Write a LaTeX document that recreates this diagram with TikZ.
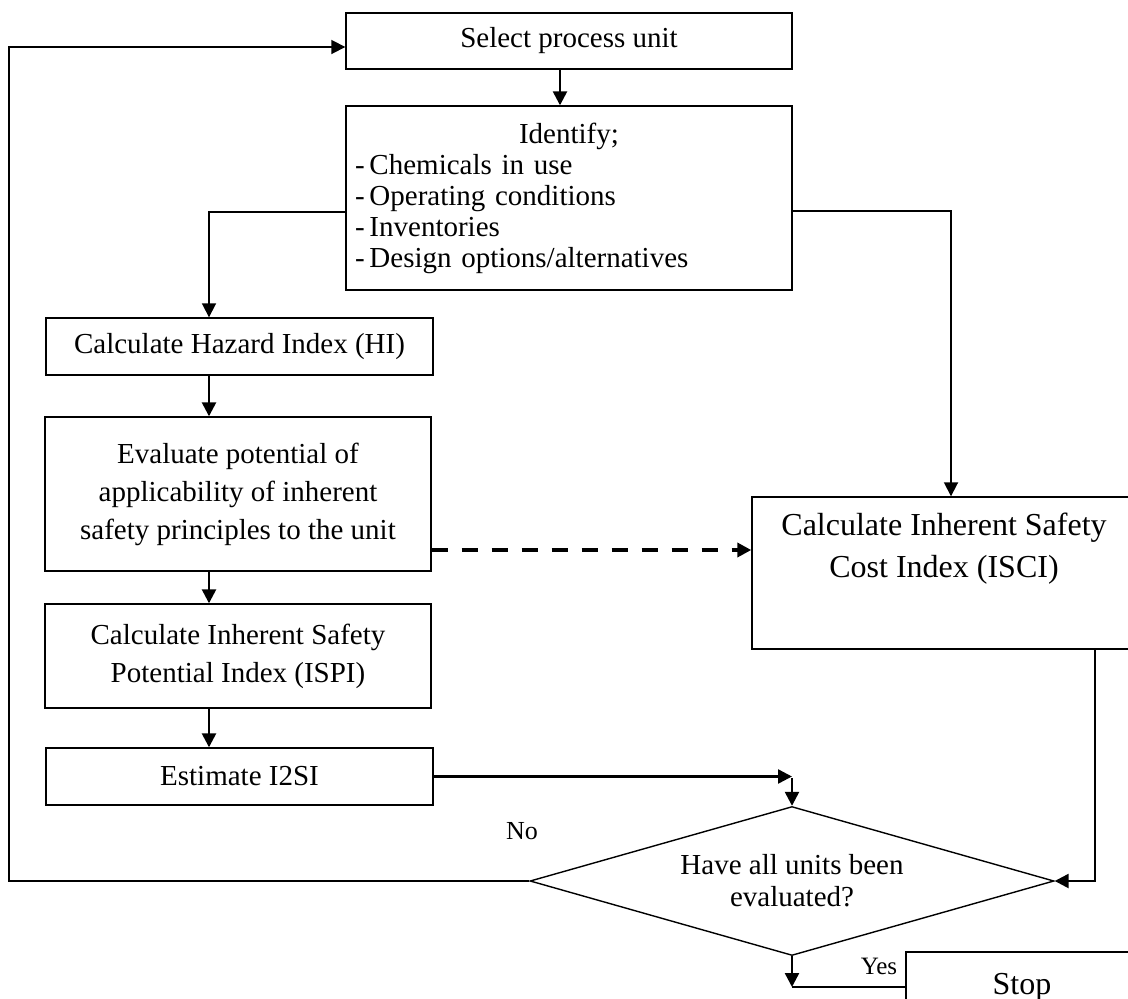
\documentclass[tikz,border=0pt]{standalone}
\usepackage{fontspec}
\setmainfont{Liberation Serif}
\usepackage{tikz}
\usetikzlibrary{positioning,shapes.geometric,arrows.meta}
\tikzset{
    >={Triangle[length=14pt,width=14pt]},
    box/.style={draw, line width=1.4pt, rectangle, inner sep=0pt, align=center, font=\fontsize{29}{38}\selectfont},
    conn/.style={line width=2.5pt},
    thinconn/.style={line width=1.8pt},
}

\begin{document}
\begin{tikzpicture}[x=1pt, y=-1pt]
                    \useasboundingbox (0,0) rectangle (1128,999);
                    \coordinate (spine) at (209,0);
                    \coordinate (rspine) at (951,0);
                    \coordinate (loopx) at (9,0);

                    \node[box, minimum width=446pt, minimum height=56pt] (sel) at (569,41) {Select process unit};
                    \node[box, minimum width=446pt, minimum height=184pt, text width=428pt, align=left, font=\fontsize{29}{31}\selectfont] (ident) at (569,198)
                        {\makebox[428pt]{Identify;}\\-\,Chemicals in use\\-\,Operating conditions\\-\,Inventories\\-\,Design options/alternatives};
                    \node[box, minimum width=387pt, minimum height=57pt] (hi) at (239.5,346.5) {Calculate Hazard Index (HI)};
                    \node[box, minimum width=386pt, minimum height=154pt] (eval) at (238,494) {Evaluate potential of\\applicability of inherent\\safety principles to the unit};
                    \node[box, minimum width=386pt, minimum height=104pt] (ispi) at (238,656) {Calculate Inherent Safety\\Potential Index (ISPI)};
                    \node[box, minimum width=387pt, minimum height=57pt] (est) at (239.5,776.5) {Estimate I2SI};
                    \node[box, minimum width=384pt, minimum height=152pt, font=\fontsize{32}{42}\selectfont] (isci) at (944,573) {Calculate Inherent Safety\\Cost Index (ISCI)\\\strut};
                    \node[box, diamond, aspect=3.5, minimum width=524pt, minimum height=149pt, font=\fontsize{29}{32}\selectfont] (dec) at (792,881) {Have all units been\\evaluated?};
                    \node[box, minimum width=232pt, minimum height=70pt, font=\fontsize{32}{42}\selectfont] (stop) at (1022,987) {Stop};
                    \node[font=\fontsize{26}{30}\selectfont] (no) at (522,831) {No};
                    \node[font=\fontsize{25}{30}\selectfont] (yes) at (879,966) {Yes};

                    \draw[->, conn] ([xshift=-9pt]sel.south) -- ([xshift=-9pt]ident.north);
                    \draw[->, thinconn] ([yshift=-14pt]ident.west) -| (hi.north -| spine);
                    \draw[->, conn] (hi.south -| spine) -- (eval.north -| spine);
                    \draw[->, conn] (eval.south -| spine) -- (ispi.north -| spine);
                    \draw[->, conn] (ispi.south -| spine) -- (est.north -| spine);
                    \draw[->, thinconn] ([yshift=-13pt]ident.east) -| (isci.north -| rspine);
                    \draw[->, line width=4pt, dash pattern=on 16pt off 14pt] ([yshift=-56pt]eval.east) -- ([yshift=-56pt]eval.east -| isci.west);
                    \draw[->, conn] (est.east) -- (est.east -| dec.north);
                    \draw[->, conn] ([yshift=28pt]dec.north) -- (dec.north);
                    \draw[->, conn] ([xshift=151pt]isci.south) |- (dec.east);
                    \draw[->, thinconn] (dec.west) -- (dec.west -| loopx) |- ([yshift=-6pt]sel.west);
                    \draw[->, conn] (dec.south) -- (dec.south |- stop.west);
                    \draw[conn] (dec.south |- stop.west) -- (stop.west);
                \end{tikzpicture}
\end{document}
